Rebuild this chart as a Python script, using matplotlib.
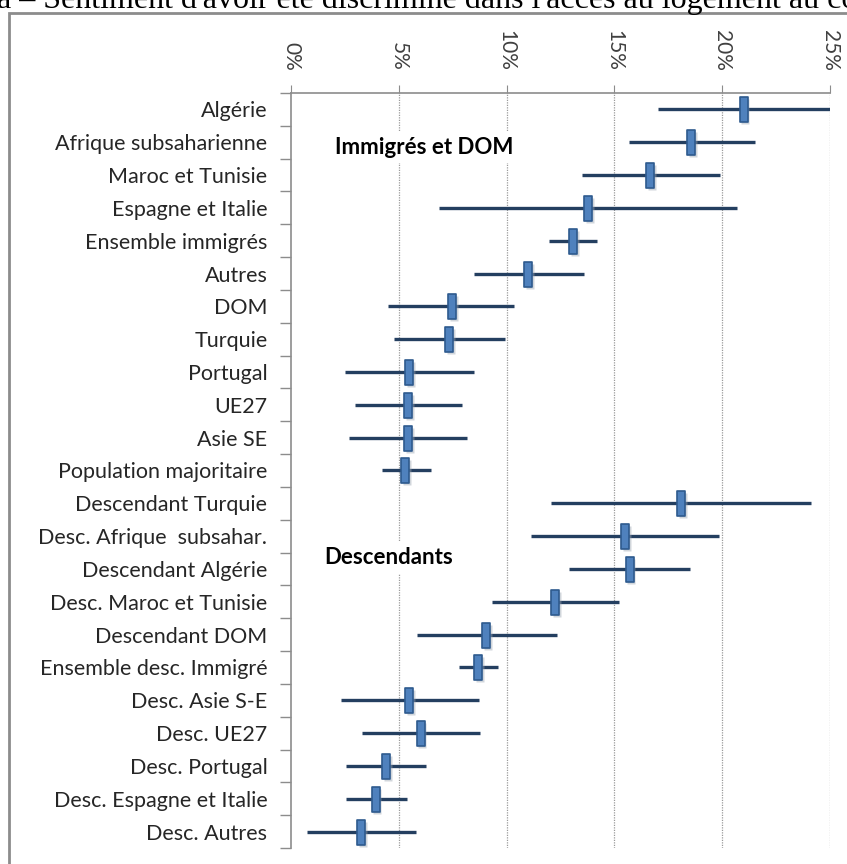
import matplotlib.pyplot as plt
from matplotlib.path import Path
from matplotlib.patches import Rectangle
import numpy as np

# Données : proportion estimée et intervalle de confiance (en %)
categories = [
    "Algérie", "Afrique subsaharienne", "Maroc et Tunisie", "Espagne et Italie",
    "Ensemble immigrés", "Autres", "DOM", "Turquie", "Portugal", "UE27",
    "Asie SE", "Population majoritaire", "Descendant Turquie",
    "Desc. Afrique  subsahar.", "Descendant Algérie", "Desc. Maroc et Tunisie",
    "Descendant DOM", "Ensemble desc. Immigré", "Desc. Asie S-E", "Desc. UE27",
    "Desc. Portugal", "Desc. Espagne et Italie", "Desc. Autres",
]
estimate = [21.0, 18.55, 16.67, 13.77, 13.10, 11.01, 7.46, 7.34, 5.49, 5.42,
            5.42, 5.30, 18.1, 15.49, 15.71, 12.26, 9.04, 8.67, 5.49, 6.01,
            4.41, 3.92, 3.25]
low = [17.0, 15.66, 13.52, 6.85, 11.97, 8.5, 4.51, 4.80, 2.49, 2.98,
       2.71, 4.21, 12.07, 11.13, 12.88, 9.31, 5.86, 7.78, 2.32, 3.3,
       2.54, 2.54, 0.74]
high = [25.5, 21.5, 19.9, 20.7, 14.19, 13.57, 10.35, 9.93, 8.5, 7.91,
        8.18, 6.48, 24.14, 19.83, 18.52, 15.2, 12.34, 9.61, 8.7, 8.77,
        6.26, 5.4, 5.79]
xticks = [0, 5, 10, 15, 20, 25]
xtick_labels = ["0%", "5%", "10%", "15%", "20%", "25%"]

W, H = 847, 864
fig = plt.figure(figsize=(W / 100, H / 100), dpi=100)

# titre coupé en haut + cadre gris
fig.text(-3 / W, 1 - 8 / H, "a – Sentiment d'avoir été discriminé dans l'accès au logement au cours des cinq dernières années",
         family="Liberation Serif", fontsize=23, ha="left", va="baseline", color="black")
fig.patches.append(Rectangle((9 / W, -0.1), 1.2, 1.1 - 13 / H, transform=fig.transFigure,
                             fill=False, edgecolor="#8c8c8c", lw=2))

ax = fig.add_axes([291 / W, 1 - 848 / H, (830 - 291) / W, (848 - 93) / H])

y = np.arange(len(categories))
est = np.array(estimate)
lo = np.array(low)
hi = np.array(high)

ax.hlines(y, lo, hi, color="#243F60", lw=2.4, zorder=3)

# marqueur rectangulaire vertical
rect = Path([(-0.14, -0.5), (0.14, -0.5), (0.14, 0.5), (-0.14, 0.5), (-0.14, -0.5)],
            [Path.MOVETO, Path.LINETO, Path.LINETO, Path.LINETO, Path.CLOSEPOLY])
ax.plot(est + 0.08, y + 0.06, ls="none", marker=rect, ms=18, mfc="#9aa4b0",
        mec="none", alpha=0.45, zorder=4)
ax.plot(est, y, ls="none", marker=rect, ms=18, mfc="#4F81BD", mec="#2E5A8E",
        mew=1.2, zorder=5)

ax.set_xlim(0, 25)
ax.set_ylim(len(categories) - 0.5, -0.5)

ax.xaxis.tick_top()
ax.set_xticks(xticks)
ax.set_xticklabels(xtick_labels, rotation=-90, family="Lato", fontsize=15, color="#404040")
ax.tick_params(axis="x", length=6, color="#8c8c8c", pad=10)
for v in xticks[1:]:
    ax.axvline(v, color="#9a9a9a", lw=0.9, ls=(0, (1, 1)), zorder=1)

ax.set_yticks(y)
ax.set_yticklabels(categories, family="Lato", fontsize=15.5, color="#262626")
ax.tick_params(axis="y", length=0, pad=17)
ax.set_yticks(np.arange(-0.5, len(categories)), minor=True)
ax.tick_params(axis="y", which="minor", length=8, color="#8c8c8c", width=1)

for s in ["right", "bottom"]:
    ax.spines[s].set_visible(False)
for s in ["left", "top"]:
    ax.spines[s].set_color("#8c8c8c")
    ax.spines[s].set_linewidth(1.2)

ax.text(6.2, 1.15, "Immigrés et DOM", family="Lato", fontweight="bold", fontsize=16,
        ha="center", va="center", zorder=6,
        bbox=dict(facecolor="white", edgecolor="none", pad=4))
ax.text(4.55, 13.65, "Descendants", family="Lato", fontweight="bold", fontsize=16,
        ha="center", va="center", zorder=6,
        bbox=dict(facecolor="white", edgecolor="none", pad=4))

fig.savefig("out.png", dpi=100)
